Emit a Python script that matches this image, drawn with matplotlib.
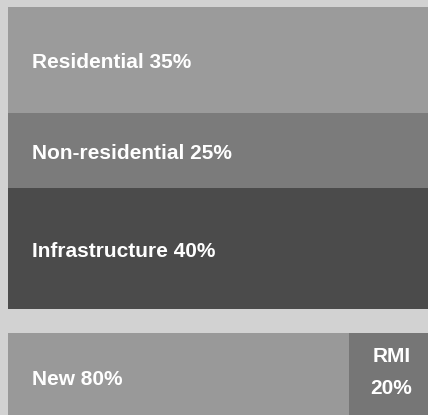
import matplotlib.pyplot as plt

# top block: construction output by sector (stacked top to bottom)
sectors = ["Residential", "Non-residential", "Infrastructure"]
sector_share = [35, 25, 40]
sector_colors = ["#9b9b9b", "#7b7b7b", "#4b4b4b"]

# bottom bar: new work vs repair, maintenance & improvement
work_types = ["New", "RMI"]
work_share = [80, 20]
work_colors = ["#999999", "#767676"]

W, H = 428, 415
fig = plt.figure(figsize=(W / 100, H / 100), dpi=100)
fig.patch.set_facecolor("#d2d2d2")

font = dict(color="white", fontweight="bold", fontsize=15,
            family=["Liberation Sans", "DejaVu Sans"])

# top stacked block
ax1 = fig.add_axes([8 / W, 1 - 309 / H, 1 - 8 / W, 302 / H])
bottom = 0
for name, val, col in zip(sectors, sector_share, sector_colors):
    ax1.bar(0, val, bottom=bottom, width=1, color=col, align="edge")
    ax1.text(0.057, bottom + val / 2 + 1, f"{name} {val}%", va="center", ha="left", **font)
    bottom += val
ax1.set_xlim(0, 1)
ax1.set_ylim(sum(sector_share), 0)
ax1.axis("off")

# bottom horizontal bar (runs a little past the right edge)
ax2 = fig.add_axes([8 / W, 0, 426 / W, 82 / H])
left = 0
for name, val, col in zip(work_types, work_share, work_colors):
    ax2.barh(0, val, left=left, height=1, color=col, align="edge")
    if val > 50:
        ax2.text(left + 5.7, 0.43, f"{name} {val}%", va="center", ha="left", **font)
    else:
        ax2.text(left + val / 2, 0.71, name, va="center", ha="center", **font)
        ax2.text(left + val / 2, 0.32, f"{val}%", va="center", ha="center", **font)
    left += val
ax2.set_xlim(0, sum(work_share))
ax2.set_ylim(0, 1)
ax2.axis("off")

fig.savefig("out.png", dpi=100, facecolor=fig.get_facecolor())
